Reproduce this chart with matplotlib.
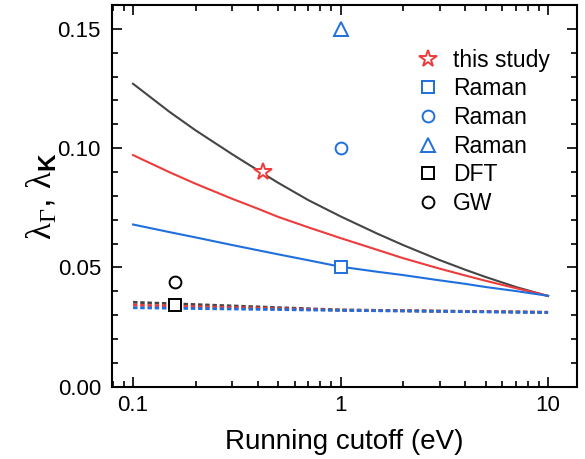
import matplotlib
matplotlib.use('Agg')
import matplotlib.pyplot as plt
from matplotlib.ticker import MultipleLocator, FixedLocator, NullFormatter

plt.rcParams['font.family'] = ['Liberation Sans', 'DejaVu Sans']
plt.rcParams['mathtext.fontset'] = 'custom'
plt.rcParams['mathtext.rm'] = 'Liberation Serif'
plt.rcParams['mathtext.bf'] = 'Liberation Sans:bold'
plt.rcParams['mathtext.it'] = 'Liberation Serif'
plt.rcParams['mathtext.default'] = 'rm'

# running couplings (solid)
cutoff = [0.1, 0.15, 0.2, 0.3, 0.4, 0.5, 0.7, 1.0, 1.5, 2.0, 3.0, 4.0, 5.0, 7.0, 10.0]
lam_black = [0.127, 0.1152, 0.1075, 0.0975, 0.0907, 0.0855, 0.0782, 0.0714,
             0.0642, 0.0594, 0.0531, 0.0490, 0.0460, 0.0418, 0.0380]
lam_red = [0.0971, 0.0899, 0.0851, 0.0788, 0.0746, 0.0712, 0.0668, 0.0623,
           0.0574, 0.0539, 0.0495, 0.0466, 0.0444, 0.0413, 0.0381]
lam_blue = [0.0680, 0.0648, 0.0626, 0.0594, 0.0572, 0.0555, 0.0530, 0.0503,
            0.0482, 0.0468, 0.0446, 0.0431, 0.0418, 0.0401, 0.0381]

# dashed (nearly flat) curves
cutoff_d = [0.1, 1.0, 10.0]
dash_black = [0.0354, 0.0322, 0.0312]
dash_red = [0.0342, 0.0321, 0.0312]
dash_blue = [0.0331, 0.0320, 0.0311]

# reference points
star_x, star_y = [0.425], [0.090]
raman_sq = ([1.0], [0.0503])
raman_ci = ([1.0], [0.100])
raman_tr = ([1.0], [0.150])
dft = ([0.16], [0.0342])
gw = ([0.16], [0.044])

c_black = '#454545'
c_red = '#ee3b3b'
c_blue = '#1f6fde'

fig = plt.figure(figsize=(5.85, 4.59), dpi=100)
ax = fig.add_axes([0.1915, 0.1575, 0.795, 0.8315])

ax.plot(cutoff, lam_black, color=c_black, lw=1.5)
ax.plot(cutoff, lam_red, color=c_red, lw=1.5)
ax.plot(cutoff, lam_blue, color=c_blue, lw=1.5)

ds = (0, (1.6, 1.0))
ax.plot(cutoff_d, dash_black, color=c_black, lw=2, ls=ds)
ax.plot(cutoff_d, dash_red, color=c_red, lw=2, ls=ds)
ax.plot(cutoff_d, dash_blue, color=c_blue, lw=2, ls=ds)

mk = dict(ls='none', mfc='white', mew=1.4)
ax.plot(star_x, star_y, marker='*', ms=13, mec=c_red, label='this study', **mk)
ax.plot(*raman_sq, marker='s', ms=8, mec=c_blue, label='Raman', **mk)
ax.plot(*raman_ci, marker='o', ms=8.5, mec=c_blue, label='Raman', **mk)
ax.plot(*raman_tr, marker='^', ms=9.5, mec=c_blue, label='Raman', **mk)
ax.plot(*dft, marker='s', ms=8, mec='black', label='DFT', **mk)
ax.plot(*gw, marker='o', ms=8.5, mec='black', label='GW', **mk)

ax.set_xscale('log')
ax.set_xlim(0.0792, 13.8)
ax.set_ylim(0, 0.16)
ax.set_xticks([0.1, 1, 10])
ax.set_xticklabels(['0.1', '1', '10'])
ax.xaxis.set_minor_locator(FixedLocator(
    [k * 10.0 ** e for e in (-2, -1, 0, 1) for k in range(2, 10)]))
ax.xaxis.set_minor_formatter(NullFormatter())
ax.set_yticks([0, 0.05, 0.10, 0.15])
ax.set_yticklabels(['0.00', '0.05', '0.10', '0.15'])
ax.yaxis.set_minor_locator(MultipleLocator(0.01))

ax.tick_params(which='both', direction='in', top=True, right=True, width=1.2,
               labelsize=16)
ax.tick_params(axis='y', pad=8)
ax.tick_params(axis='x', pad=6)
ax.tick_params(which='major', length=7)
ax.tick_params(which='minor', length=4)
for s in ax.spines.values():
    s.set_linewidth(1.5)

ax.set_xlabel('Running cutoff (eV)', fontsize=20, labelpad=9)
ax.set_ylabel(r'$\lambda_\Gamma$, $\lambda_\mathbf{K}$', fontsize=25, labelpad=-1)

ax.legend(loc='upper left', bbox_to_anchor=(0.63, 0.91), frameon=False,
          fontsize=16.5, handletextpad=0.5, labelspacing=0.25,
          handlelength=1.2, borderaxespad=0)

fig.savefig('out.png', dpi=100)
